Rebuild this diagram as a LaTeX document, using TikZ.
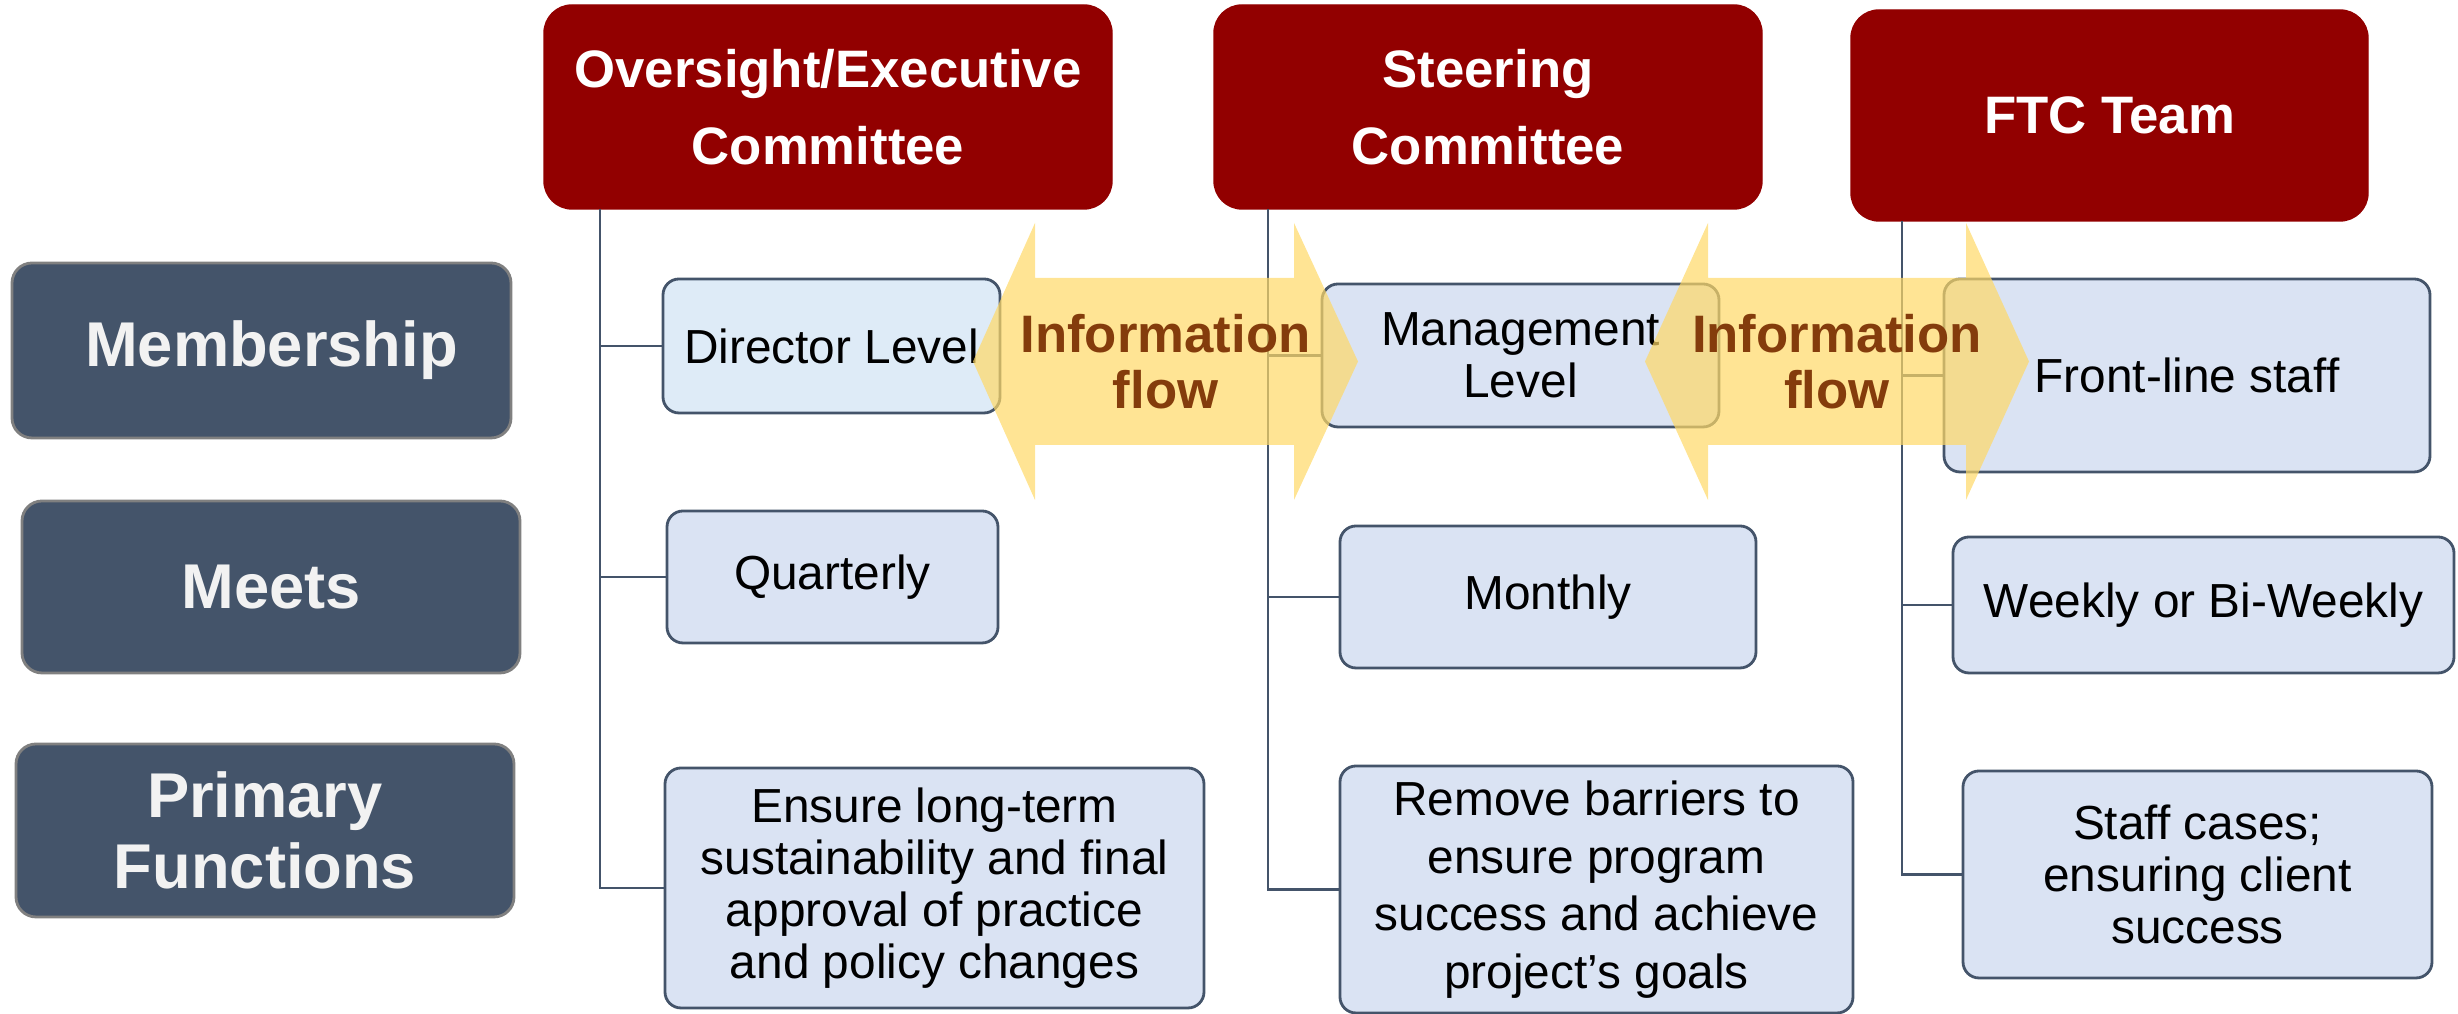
\documentclass[tikz,border=0pt]{standalone}
\usepackage{fontspec}
\setmainfont{Liberation Sans}
\usepackage{tikz}
\usetikzlibrary{arrows.meta}
\definecolor{headred}{RGB}{146,0,0}
\definecolor{slate}{RGB}{68,84,106}
\definecolor{paleblue}{RGB}{218,227,243}
\definecolor{paleblueb}{RGB}{222,235,247}
\definecolor{flowyellow}{RGB}{255,217,102}
\definecolor{flowbrown}{RGB}{132,60,12}

\begin{document}
\begin{tikzpicture}[
    head/.style={rectangle, rounded corners=0.28cm, fill=headred, draw=headred, text=white, align=center, outer sep=0pt,
                 font=\fontsize{15}{21.8}\selectfont\bfseries},
    rowlabel/.style={rectangle, rounded corners=0.2cm, fill=slate, draw=gray, line width=0.8pt, text=white!95!black, align=center, outer sep=0pt,
                 font=\fontsize{18}{20}\selectfont\bfseries},
    item/.style={rectangle, rounded corners=0.16cm, fill=paleblue, draw=slate, line width=0.8pt, align=center, outer sep=0pt,
                 font=\fontsize{13.6}{14.8}\selectfont},
    trunk/.style={draw=slate, line width=0.6pt},
    flowarrow/.style={fill=flowyellow, fill opacity=0.7},
    flowtext/.style={text=flowbrown, align=center, font=\fontsize{15}{16.1}\selectfont\bfseries}
  ]
            \useasboundingbox (0,0) rectangle (24.58,10.14);
            % committees
            \node (over) at (8.28,9.07) [head, minimum width=5.68cm, minimum height=2.04cm] {Oversight/Executive\\Committee};
            \node (steer) at (14.88,9.07) [head, minimum width=5.48cm, minimum height=2.04cm] {Steering\\Committee};
            \node (ftc) at (21.095,8.985) [head, minimum width=5.17cm, minimum height=2.11cm] {FTC Team};
            % row labels
            \node (mem) at (2.615,6.635) [rowlabel, minimum width=4.99cm, minimum height=1.75cm] {\hspace*{0.2cm}Membership};
            \node (meets) at (2.71,4.27) [rowlabel, minimum width=4.98cm, minimum height=1.72cm] {Meets};
            \node (prim) at (2.65,1.835) [rowlabel, minimum width=4.98cm, minimum height=1.73cm] {Primary\\Functions};
            % oversight column
            \node (dir) at (8.315,6.68) [item, fill=paleblueb, minimum width=3.37cm, minimum height=1.34cm] {Director Level};
            \node (quart) at (8.325,4.37) [item, minimum width=3.31cm, minimum height=1.32cm] {Quarterly};
            \node (ens) at (9.345,1.26) [item, minimum width=5.39cm, minimum height=2.40cm] {Ensure long-term\\sustainability and final\\approval of practice\\and policy changes};
            % steering column
            \node (mgmt) at (15.205,6.585) [item, minimum width=3.97cm, minimum height=1.43cm] {Management\\Level};
            \node (month) at (15.48,4.17) [item, minimum width=4.16cm, minimum height=1.42cm] {Monthly};
            \node (remove) at (15.965,1.245) [item, minimum width=5.13cm, minimum height=2.47cm,
                 font=\fontsize{13.6}{16.4}\selectfont] {Remove barriers to\\ensure program\\success and achieve\\project’s goals};
            % ftc column
            \node (front) at (21.87,6.385) [item, minimum width=4.86cm, minimum height=1.93cm] {Front-line staff};
            \node (week) at (22.035,4.09) [item, minimum width=5.01cm, minimum height=1.36cm] {Weekly or Bi-Weekly};
            \node (staff) at (21.975,1.395) [item, minimum width=4.69cm, minimum height=2.07cm] {Staff cases;\\ensuring client\\success};
            % trunks
            \coordinate (overtrunk) at ([xshift=0.56cm]over.south west);
            \coordinate (steertrunk) at ([xshift=0.54cm]steer.south west);
            \coordinate (ftctrunk) at ([xshift=0.51cm]ftc.south west);
            \draw[trunk] (overtrunk) |- (dir.west);
            \draw[trunk] (overtrunk) |- (quart.west);
            \draw[trunk] (overtrunk) |- (ens.west);
            \draw[trunk] (steertrunk) |- (mgmt.west);
            \draw[trunk] (steertrunk) |- (month.west);
            \draw[trunk] (steertrunk) |- (remove.west);
            \draw[trunk] (ftctrunk) |- (front.west);
            \draw[trunk] (ftctrunk) |- (week.west);
            \draw[trunk] (ftctrunk) |- (staff.west);
            % information flow arrows
            \fill[flowarrow] (9.73,6.525) -- (10.35,7.91) -- (10.35,7.36) -- (12.94,7.36) -- (12.94,7.91) -- (13.58,6.525)
                 -- (12.94,5.14) -- (12.94,5.69) -- (10.35,5.69) -- (10.35,5.14) -- cycle;
            \fill[flowarrow] (16.45,6.525) -- (17.08,7.91) -- (17.08,7.36) -- (19.66,7.36) -- (19.66,7.91) -- (20.29,6.525)
                 -- (19.66,5.14) -- (19.66,5.69) -- (17.08,5.69) -- (17.08,5.14) -- cycle;
            \node (flowA) at (11.655,6.525) [flowtext] {Information\\flow};
            \node (flowB) at (18.37,6.525) [flowtext] {Information\\flow};
\end{tikzpicture}
\end{document}
